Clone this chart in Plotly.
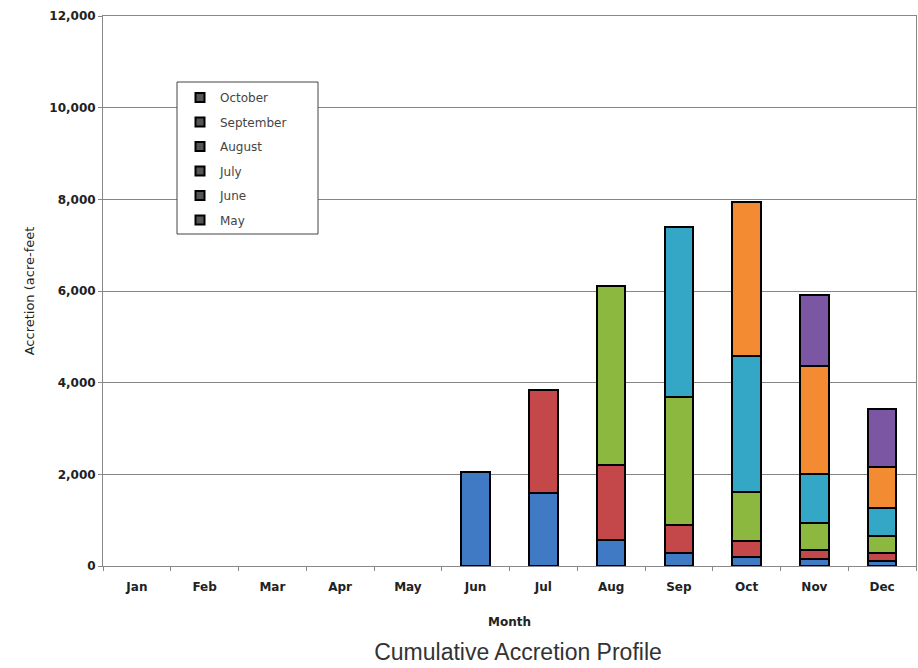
import plotly.graph_objects as go

months = ["Jan", "Feb", "Mar", "Apr", "May", "Jun", "Jul", "Aug", "Sep", "Oct", "Nov", "Dec"]

# Accretion contributed by each release month (acre-feet), stacked per month
may_vals = [None, None, None, None, None, 2060, 1600, 570, 290, 200, 150, 100]
june_vals = [None, None, None, None, None, None, 2250, 1630, 610, 350, 200, 180]
july_vals = [None, None, None, None, None, None, None, 3920, 2780, 1070, 590, 370]
august_vals = [None, None, None, None, None, None, None, None, 3720, 2960, 1060, 610]
september_vals = [None, None, None, None, None, None, None, None, None, 3370, 2360, 900]
october_vals = [None, None, None, None, None, None, None, None, None, None, 1560, 1260]

series_names = ["May", "June", "July", "August", "September", "October"]
series_values = [may_vals, june_vals, july_vals, august_vals, september_vals, october_vals]
series_colors = ["#4079C4", "#C4474A", "#8DB83F", "#35A7C6", "#F38B32", "#7B56A3"]

y_ticks = [0, 2000, 4000, 6000, 8000, 10000, 12000]

AXIS_FONT = "DejaVu Sans, Verdana, sans-serif"
TITLE_FONT = "Liberation Sans, Arial, sans-serif"

# plot area in pixels
PL, PR, PT, PB = 103, 916, 16, 566
PW, PH = PR - PL, PB - PT

fig = go.Figure()

for name, vals, color in zip(series_names, series_values, series_colors):
    fig.add_trace(go.Bar(
        x=months, y=vals, name=name,
        marker=dict(color=color, line=dict(color="#000000", width=2)),
        width=0.42, showlegend=False,
    ))

# Legend entries (dark square swatches), newest month on top
for name in reversed(series_names):
    fig.add_trace(go.Scatter(
        x=[None], y=[None], mode="markers", name=name, legendgroup=name,
        marker=dict(symbol="square", size=9, color="#555555",
                    line=dict(color="#000000", width=2)),
    ))

# legend frame (white box over the gridlines)
box_l, box_r, box_t, box_b = 177, 318, 82, 234
fig.add_shape(
    type="rect", xref="paper", yref="paper", layer="above",
    x0=(box_l - PL) / PW, x1=(box_r - PL) / PW,
    y0=1 - (box_b - PT) / PH, y1=1 - (box_t - PT) / PH,
    fillcolor="white", line=dict(color="#444444", width=1),
)

fig.update_layout(
    width=918, height=668,
    margin=dict(l=PL, r=918 - PR, t=PT, b=668 - PB),
    paper_bgcolor="white", plot_bgcolor="white",
    barmode="stack", bargap=0.58,
    font=dict(family=AXIS_FONT, color="#222222"),
    showlegend=True,
    legend=dict(
        x=(180 - PL) / PW, y=1 - (83 - PT) / PH, xanchor="left", yanchor="top",
        borderwidth=0, bgcolor="rgba(0,0,0,0)",
        font=dict(size=12, color="#444444", family=AXIS_FONT),
        traceorder="grouped", tracegroupgap=5.5,
    ),
    title=dict(
        text="Cumulative Accretion Profile",
        x=518 / 918, xanchor="center",
        y=1 - 652 / 668, yanchor="middle", yref="container",
        font=dict(size=23, color="#333333", family=TITLE_FONT),
    ),
)

fig.update_xaxes(
    type="category", categoryorder="array", categoryarray=months,
    showline=True, linecolor="#888888", linewidth=1, mirror=True,
    ticks="outside", tickson="boundaries", ticklen=4, tickcolor="#888888",
    ticklabelstandoff=10,
    tickfont=dict(size=12, weight="bold", color="#222222", family=AXIS_FONT),
    title=dict(text="Month", standoff=24,
               font=dict(size=12, weight="bold", color="#222222", family=AXIS_FONT)),
    showgrid=False,
)

fig.update_yaxes(
    range=[0, 12000], tickvals=y_ticks, tickformat=",",
    showline=True, linecolor="#888888", linewidth=1, mirror=True,
    ticks="outside", ticklen=4, tickcolor="#888888",
    showgrid=True, gridcolor="#858585", gridwidth=1,
    tickfont=dict(size=12, weight="bold", color="#222222", family=AXIS_FONT),
    title=dict(text="Accretion (acre-feet", standoff=11,
               font=dict(size=13, color="#222222", family=AXIS_FONT)),
    zeroline=False,
)

fig.write_html("out.html")
